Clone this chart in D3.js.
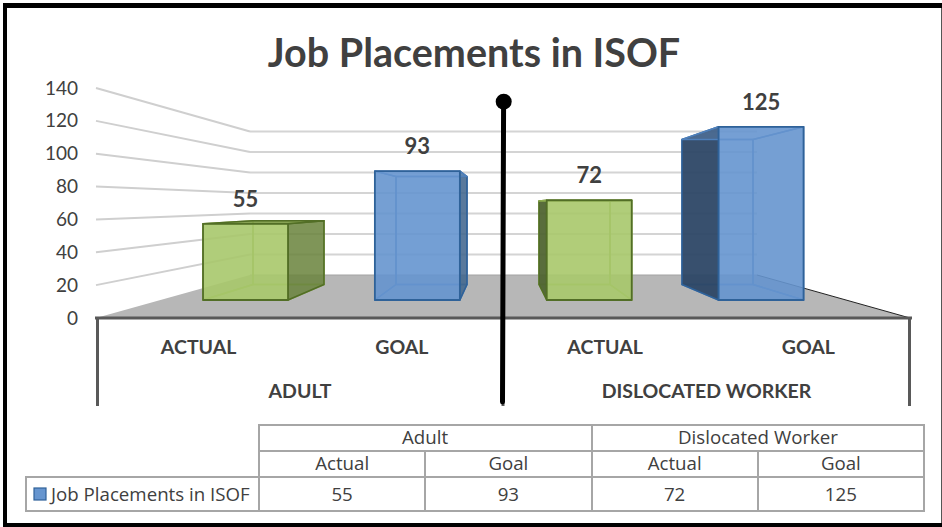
<!DOCTYPE html>
<html>
<head>
<meta charset="utf-8">
<script src="https://cdn.jsdelivr.net/npm/d3@7"></script>
<style>
  html, body { margin: 0; padding: 0; background: #fff; }
  svg { display: block; }
</style>
</head>
<body>
<div id="chart"></div>
<script>
// Chart data
var chartTitle = "Job Placements in ISOF";
var seriesName = "Job Placements in ISOF";
var groups = ["Adult", "Dislocated Worker"];
var subCategories = ["Actual", "Goal", "Actual", "Goal"];
var values = [55, 93, 72, 125];
var barKinds = ["green", "blue", "green", "blue"];
var yTicks = [0, 20, 40, 60, 80, 100, 120, 140];

var svgWidth = 942;
var svgHeight = 527;
var fontChart = "Lato, Carlito, sans-serif";
var fontTable = "'Open Sans', sans-serif";

var svg = d3.select("#chart")
  .append("svg")
  .attr("width", svgWidth)
  .attr("height", svgHeight);

// Scales: the chart is a fake 3d box, so each plane has its own scale
var axisY = d3.scaleLinear().domain([0, 140]).range([318, 88]);     // front edge of the left wall
var wallY = d3.scaleLinear().domain([0, 140]).range([275, 131.5]);  // back wall
var frontY = d3.scaleLinear().domain([0, 140]).range([300, 106]);   // front face of bars
var backY = d3.scaleLinear().domain([0, 140]).range([284.5, 122]);  // back face of bars

var idx = values.map(function(d, i) { return i; });
var frontX = d3.scalePoint().domain(idx).range([159.6, 847]).padding(0.5);
var backX = d3.scalePoint().domain(idx).range([217, 789]).padding(0.5);
var labelX = d3.scalePoint().domain(idx).range([97, 910]).padding(0.5);
var tableX = d3.scalePoint().domain(idx).range([259, 924]).padding(0.5);
var frontHalf = 42.5;
var backHalf = 35.5;

var wallLeft = 250, wallRight = 757, axisLeft = 96, axisRight = 910;

// Outer frame, heavy on three sides and thin on the right
svg.append("rect").attr("x", 3).attr("y", 3).attr("width", 939).attr("height", 524).attr("fill", "#000");
svg.append("rect").attr("x", 7).attr("y", 8).attr("width", 934).attr("height", 515).attr("fill", "#fff");
svg.append("rect").attr("x", 941).attr("y", 8).attr("width", 1).attr("height", 515).attr("fill", "#555");

// Title
svg.append("text")
  .attr("x", 474).attr("y", 67)
  .attr("text-anchor", "middle")
  .attr("font-family", fontChart)
  .attr("font-weight", 700)
  .attr("font-size", 39.5)
  .attr("fill", "#404040")
  .text(chartTitle);

// Gridlines, left wall then back wall
var gridTicks = yTicks.filter(function(d) { return d > 0; });
svg.selectAll(".gridLeft").data(gridTicks).enter().append("line")
  .attr("class", "gridLeft")
  .attr("x1", axisLeft).attr("y1", function(d) { return axisY(d); })
  .attr("x2", wallLeft).attr("y2", function(d) { return wallY(d); })
  .attr("stroke", "#cfcfcf").attr("stroke-width", 2);
svg.selectAll(".gridBack").data(gridTicks).enter().append("line")
  .attr("class", "gridBack")
  .attr("x1", wallLeft).attr("y1", function(d) { return wallY(d); })
  .attr("x2", wallRight).attr("y2", function(d) { return wallY(d); })
  .attr("stroke", "#d4d4d4").attr("stroke-width", 2);

// Floor
svg.append("polygon")
  .attr("points", [[axisLeft, axisY(0)], [wallLeft, wallY(0)], [wallRight, wallY(0)], [axisRight, axisY(0)]].join(" "))
  .attr("fill", "#b7b7b7");
svg.append("line")
  .attr("x1", wallLeft).attr("y1", wallY(0)).attr("x2", wallRight).attr("y2", wallY(0))
  .attr("stroke", "#a3a3a3").attr("stroke-width", 1);
svg.append("line")
  .attr("x1", wallRight).attr("y1", wallY(0)).attr("x2", axisRight).attr("y2", axisY(0))
  .attr("stroke", "#222").attr("stroke-width", 1);

// Value axis labels
var yAxis = d3.axisLeft(axisY).tickValues(yTicks).tickSize(0).tickPadding(0);
var yG = svg.append("g").attr("transform", "translate(78,0)").call(yAxis);
yG.select(".domain").remove();
yG.selectAll("text")
  .attr("font-family", fontChart)
  .attr("font-size", 19)
  .attr("fill", "#404040");

// Colours for the two bar kinds
var colors = {
  green: { front: "#a9c86c", back: "#a4c261", sideLeft: "#4d6230", sideRight: "#667f3c", top: "#7d9a46", stroke: "#526e26", inner: "#8fae50" },
  blue: { front: "#6695cf", back: "#5f8fcb", sideLeft: "#2b4463", sideRight: "#3d6187", top: "#4a76ad", stroke: "#2f6299", inner: "#4f80bb" }
};

// Each bar is drawn back to front as see-through faces
var bars = svg.selectAll(".bar").data(idx).enter().append("g").attr("class", "bar");

function face(sel, pts, fill, opacity, stroke, strokeWidth) {
  sel.append("polygon")
    .attr("points", pts.join(" "))
    .attr("fill", fill)
    .attr("fill-opacity", opacity)
    .attr("stroke", stroke)
    .attr("stroke-width", strokeWidth || 1.5)
    .attr("stroke-linejoin", "round");
}

bars.each(function(i) {
  var g = d3.select(this);
  var c = colors[barKinds[i]];
  var v = values[i];
  var fl = frontX(i) - frontHalf, fr = frontX(i) + frontHalf;
  var bl = backX(i) - backHalf, br = backX(i) + backHalf;
  var ft = frontY(v), fb = frontY(0), bt = backY(v), bb = backY(0);

  // back face and floor of the bar
  face(g, [[bl, bt], [br, bt], [br, bb], [bl, bb]], c.back, 0.35, c.inner);
  face(g, [[bl, bb], [br, bb], [fr, fb], [fl, fb]], c.back, 0.35, c.inner);
  // the side that shows: inner side is pale, outer side is dark
  if (bl < fl) {
    face(g, [[bl, bt], [fl, ft], [fl, fb], [bl, bb]], c.sideLeft, 0.92, c.stroke);
  } else {
    face(g, [[bl, bt], [fl, ft], [fl, fb], [bl, bb]], c.inner, 0.3, c.inner);
  }
  if (br > fr) {
    face(g, [[fr, ft], [br, bt], [br, bb], [fr, fb]], c.sideRight, 0.8, c.stroke);
  } else {
    face(g, [[fr, ft], [br, bt], [br, bb], [fr, fb]], c.inner, 0.3, c.inner);
  }
  // top, only seen where the front top sits lower than the back top
  face(g, [[fl, ft], [fr, ft], [br, bt], [bl, bt]], ft > bt ? c.top : c.front, ft > bt ? 0.9 : 0.35, ft > bt ? c.stroke : c.inner);
  // front face
  face(g, [[fl, ft], [fr, ft], [fr, fb], [fl, fb]], c.front, 0.86, c.stroke, 1.8);
});

// Value labels
svg.selectAll(".valueLabel").data(idx).enter().append("text")
  .attr("class", "valueLabel")
  .attr("x", function(i) { return frontX(i); })
  .attr("y", function(i) { return frontY(values[i]) - 17; })
  .attr("text-anchor", "middle")
  .attr("font-family", fontChart)
  .attr("font-weight", 700)
  .attr("font-size", 22)
  .attr("fill", "#404040")
  .text(function(i) { return values[i]; });

// Category axis under the floor
svg.append("line").attr("x1", axisLeft - 1).attr("x2", axisRight + 2).attr("y1", axisY(0)).attr("y2", axisY(0))
  .attr("stroke", "#595959").attr("stroke-width", 3);
[97.5, 503, 909.5].forEach(function(x) {
  svg.append("line").attr("x1", x).attr("x2", x).attr("y1", axisY(0)).attr("y2", 406)
    .attr("stroke", "#595959").attr("stroke-width", 3);
});

svg.selectAll(".catLabel").data(idx).enter().append("text")
  .attr("class", "catLabel")
  .attr("x", function(i) { return labelX(i); })
  .attr("y", 354)
  .attr("text-anchor", "middle")
  .attr("font-family", fontChart)
  .attr("font-weight", 700)
  .attr("font-size", 19.5)
  .attr("fill", "#404040")
  .text(function(i) { return subCategories[i].toUpperCase(); });

svg.selectAll(".groupLabel").data(groups).enter().append("text")
  .attr("class", "groupLabel")
  .attr("x", function(d, i) { return i == 0 ? 300 : 706.5; })
  .attr("y", 398)
  .attr("text-anchor", "middle")
  .attr("font-family", fontChart)
  .attr("font-weight", 700)
  .attr("font-size", 19.5)
  .attr("fill", "#404040")
  .text(function(d) { return d.toUpperCase(); });

// Black line drawn over the chart by hand
svg.append("line").attr("x1", 503.6).attr("y1", 102).attr("x2", 502.5).attr("y2", 402)
  .attr("stroke", "#000").attr("stroke-width", 5).attr("stroke-linecap", "round");
svg.append("circle").attr("cx", 503.7).attr("cy", 101.7).attr("r", 8).attr("fill", "#000");

// Data table
var table = svg.append("g")
  .attr("stroke", "#a6a6a6")
  .attr("stroke-width", 2)
  .attr("fill", "none");
var colEdges = [259, 425, 592, 758, 924];
var rowEdges = [425, 451, 477, 511];
table.append("rect").attr("x", 259).attr("y", 425).attr("width", 665).attr("height", 86);
table.append("rect").attr("x", 26).attr("y", 477).attr("width", 233).attr("height", 34);
table.append("line").attr("x1", 259).attr("x2", 924).attr("y1", 451).attr("y2", 451);
table.append("line").attr("x1", 259).attr("x2", 924).attr("y1", 477).attr("y2", 477);
table.append("line").attr("x1", colEdges[2]).attr("x2", colEdges[2]).attr("y1", rowEdges[0]).attr("y2", rowEdges[3]);
[colEdges[1], colEdges[3]].forEach(function(x) {
  table.append("line").attr("x1", x).attr("x2", x).attr("y1", rowEdges[1]).attr("y2", rowEdges[3]);
});

function tableText(x, y, str, anchor) {
  svg.append("text")
    .attr("x", x).attr("y", y)
    .attr("text-anchor", anchor || "middle")
    .attr("font-family", fontTable)
    .attr("font-size", 18.7)
    .attr("fill", "#404040")
    .text(str);
}
groups.forEach(function(d, i) {
  tableText(i == 0 ? 425 : 758, 444, d);
});
idx.forEach(function(i) {
  tableText(tableX(i), 470, subCategories[i]);
  tableText(tableX(i), 501, values[i]);
});
tableText(51, 501, seriesName, "start");

// Legend key
svg.append("rect").attr("x", 34).attr("y", 488).attr("width", 12).attr("height", 12)
  .attr("fill", "#6695cf").attr("stroke", "#2f6299").attr("stroke-width", 1.2);
</script>
</body>
</html>
